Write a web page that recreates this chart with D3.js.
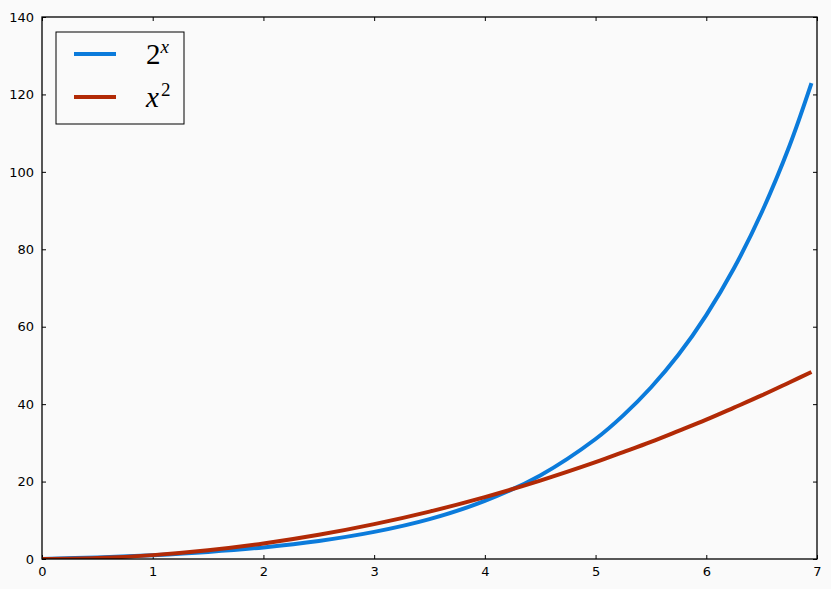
<!DOCTYPE html>
<html>
<head>
<meta charset="utf-8">
<script src="https://cdn.jsdelivr.net/npm/d3@7"></script>
<style>
  html, body { margin: 0; padding: 0; background: #fafafa; }
  svg { display: block; }
  .tick text { font-family: "DejaVu Sans", sans-serif; font-size: 13px; fill: #000; }
</style>
</head>
<body>
<div id="chart"></div>
<script>
// values
var xValues = [0, 0.5, 1, 1.5, 2, 2.5, 3, 3.5, 4, 4.5, 5, 5.25, 5.5, 5.75, 6, 6.25, 6.5, 6.75, 6.95];
var expValues = [0, 0.41, 1, 1.83, 3, 4.66, 7, 10.3, 15, 21.6, 31, 37.1, 44.3, 52.8, 63, 75.1, 89.5, 106.6, 122.9];
var sqValues = [0, 0.25, 1, 2.25, 4, 6.25, 9, 12.25, 16, 20.25, 25, 27.6, 30.25, 33.1, 36, 39.1, 42.25, 45.6, 48.3];
var xTicks = [0, 1, 2, 3, 4, 5, 6, 7];
var yTicks = [0, 20, 40, 60, 80, 100, 120, 140];

var width = 831,
    height = 589,
    margin = { top: 17, right: 14, bottom: 30, left: 42 },
    innerW = width - margin.left - margin.right,
    innerH = height - margin.top - margin.bottom;

var series = [
    { name: 'exp', color: '#0b7bdb', values: expValues },
    { name: 'sq', color: '#b22a06', values: sqValues }
];

var svg = d3.select('#chart').append('svg')
    .attr('width', width)
    .attr('height', height);

svg.append('rect')
    .attr('width', width).attr('height', height)
    .attr('fill', '#fafafa');

var g = svg.append('g')
    .attr('transform', 'translate(' + margin.left + ',' + margin.top + ')');

var x = d3.scaleLinear().domain([0, 7]).range([0, innerW]);
var y = d3.scaleLinear().domain([0, 140]).range([innerH, 0]);

// axes, ticks pointing inward on all sides
function styleAxis(sel) {
    sel.select('.domain').remove();
    sel.selectAll('.tick line').attr('stroke', '#000').attr('stroke-width', 1);
}

g.append('g')
    .attr('transform', 'translate(0,' + innerH + ')')
    .call(d3.axisBottom(x).tickValues(xTicks).tickSize(-4).tickPadding(8).tickFormat(d3.format('d')))
    .call(styleAxis);

g.append('g')
    .call(d3.axisTop(x).tickValues(xTicks).tickSize(-4).tickFormat(''))
    .call(styleAxis);

g.append('g')
    .call(d3.axisLeft(y).tickValues(yTicks).tickSize(-4).tickPadding(8).tickFormat(d3.format('d')))
    .call(styleAxis);

g.append('g')
    .attr('transform', 'translate(' + innerW + ',0)')
    .call(d3.axisRight(y).tickValues(yTicks).tickSize(-4).tickFormat(''))
    .call(styleAxis);

g.append('defs').append('clipPath').attr('id', 'plot-clip')
    .append('rect').attr('width', innerW).attr('height', innerH);

var line = d3.line()
    .x(function (d, i) { return x(xValues[i]); })
    .y(function (d) { return y(d); })
    .curve(d3.curveCatmullRom.alpha(0.5));

g.append('g').attr('clip-path', 'url(#plot-clip)')
    .selectAll('path.series')
    .data(series)
    .enter().append('path')
    .attr('class', 'series')
    .attr('fill', 'none')
    .attr('stroke', function (d) { return d.color; })
    .attr('stroke-width', 4)
    .attr('d', function (d) { return line(d.values); });

// frame
g.append('rect')
    .attr('width', innerW).attr('height', innerH)
    .attr('fill', 'none').attr('stroke', '#000').attr('stroke-width', 1.3);

// legend
var legend = g.append('g').attr('transform', 'translate(14,15)');

legend.append('rect')
    .attr('width', 128).attr('height', 92)
    .attr('fill', '#fafafa').attr('stroke', '#000').attr('stroke-width', 1);

var rows = legend.selectAll('g.row')
    .data(series)
    .enter().append('g')
    .attr('class', 'row')
    .attr('transform', function (d, i) { return 'translate(0,' + (22 + i * 43) + ')'; });

rows.append('line')
    .attr('x1', 18).attr('x2', 60)
    .attr('stroke', function (d) { return d.color; })
    .attr('stroke-width', 4);

var labels = rows.append('text')
    .attr('x', 90).attr('y', 10)
    .style('font-family', '"Liberation Serif", "DejaVu Serif", serif')
    .style('font-size', '29px')
    .attr('fill', '#000');

labels.each(function (d) {
    var t = d3.select(this);
    if (d.name === 'exp') {
        t.append('tspan').text('2');
        t.append('tspan').attr('dy', -11).style('font-size', '19px').style('font-style', 'italic').text('x');
    } else {
        t.append('tspan').style('font-style', 'italic').text('x');
        t.append('tspan').attr('dx', 2).attr('dy', -11).style('font-size', '19px').text('2');
    }
});
</script>
</body>
</html>
